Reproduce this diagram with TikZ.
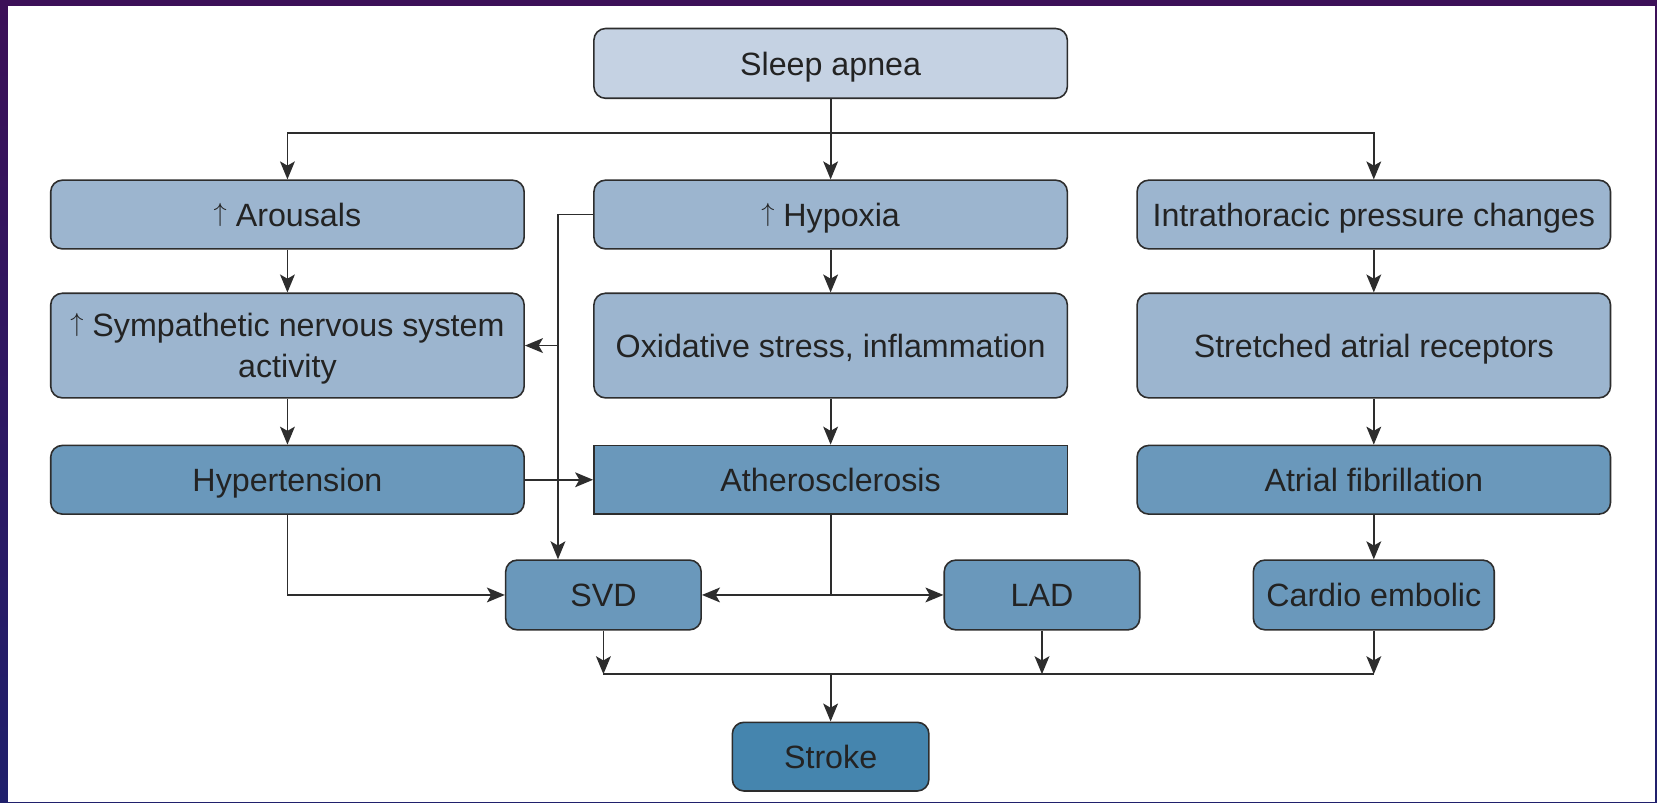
\documentclass[tikz,border=0pt]{standalone}
\usepackage{fontspec}
\setmainfont{Liberation Sans}
\usetikzlibrary{arrows.meta}
\definecolor{bgtop}{RGB}{60,16,88}
\definecolor{bgbot}{RGB}{32,32,108}
\definecolor{lightfill}{RGB}{197,210,227}
\definecolor{midfill}{RGB}{156,181,207}
\definecolor{darkfill}{RGB}{106,152,187}
\definecolor{strokefill}{RGB}{69,133,174}
\definecolor{edgecol}{RGB}{45,45,45}
\definecolor{txtcol}{RGB}{35,35,35}
\newcommand{\myup}{\raisebox{4.8pt}{$\uparrow$}}
\begin{document}
\begin{tikzpicture}[x=1pt,y=-1pt,
  box/.style={draw=edgecol, line width=1.5pt, rounded corners=11pt, text=txtcol,
    font=\fontsize{30.5}{36}\selectfont, align=center, inner sep=0pt,
    text height=22pt, text depth=0pt,
    minimum width=448pt, minimum height=65pt},
  lightbox/.style={box, fill=lightfill},
  midbox/.style={box, fill=midfill},
  darkbox/.style={box, fill=darkfill},
  conn/.style={draw=edgecol, line width=1.7pt},
  arr/.style={conn, -{Stealth[length=17pt,width=14pt,inset=4pt]}}
]
\useasboundingbox (0,0) rectangle (1568,759);
\shade[top color=bgtop, bottom color=bgbot] (0,0) rectangle (1568,759);
\fill[white] (7.5,5.5) rectangle (1566.5,759);

% nodes
\node[lightbox, minimum height=66pt] (apnea) at (786,60) {Sleep apnea};
\node[midbox] (arousal) at (272,203) {\myup\ Arousals};
\node[midbox] (hypoxia) at (786,203) {\myup\ Hypoxia};
\node[midbox] (intra) at (1300,203) {Intrathoracic pressure changes};
\node[midbox, minimum height=99pt, text height=, text depth=-6pt,
      font=\fontsize{30.5}{39}\selectfont] (symp) at (272,327) {\myup\ Sympathetic nervous system\\activity};
\node[midbox, minimum height=99pt] (oxid) at (786,327) {Oxidative stress, inflammation};
\node[midbox, minimum height=99pt] (stretch) at (1300,327) {Stretched atrial receptors};
\node[darkbox] (hyper) at (272,454) {Hypertension};
\node[darkbox, sharp corners] (ather) at (786,454) {Atherosclerosis};
\node[darkbox] (afib) at (1300,454) {Atrial fibrillation};
\node[darkbox, minimum width=185pt, minimum height=66pt] (svd) at (571,563) {SVD};
\node[darkbox, minimum width=185pt, minimum height=66pt] (lad) at (986,563) {LAD};
\node[darkbox, minimum width=228pt, minimum height=66pt] (cardio) at (1300,563) {Cardio embolic};
\node[box, fill=strokefill, minimum width=186pt] (stroke) at (786,716) {Stroke};

% junction coordinates
\coordinate (top) at (786,126);
\coordinate (vx) at (528,0);
\coordinate (bus) at (786,638);

% top fan-out
\draw[conn] (apnea.south) -- (top);
\draw[arr] (top) -| (arousal.north);
\draw[arr] (top) -- (hypoxia.north);
\draw[arr] (top) -| (intra.north);

% columns
\draw[arr] (arousal.south) -- (symp.north);
\draw[arr] (symp.south) -- (hyper.north);
\draw[arr] (hypoxia.south) -- (oxid.north);
\draw[arr] (oxid.south) -- (ather.north);
\draw[arr] (intra.south) -- (stretch.north);
\draw[arr] (stretch.south) -- (afib.north);
\draw[arr] (afib.south) -- (cardio.north);

% hypoxia side branch
\draw[arr] (hypoxia.west) -| (vx |- svd.north);
\draw[arr] (vx |- symp.east) -- (symp.east);

% hypertension
\draw[arr] (hyper.east) -- (ather.west);
\draw[arr] (hyper.south) |- (svd.west);

% atherosclerosis
\draw[conn] (ather.south) -- (ather.south |- svd.east);
\draw[arr] (ather.south |- svd.east) -- (svd.east);
\draw[arr] (ather.south |- lad.west) -- (lad.west);

% bottom bus
\draw[conn] (svd.south |- bus) -- (bus -| cardio.south);
\draw[arr] (svd.south) -- (svd.south |- bus);
\draw[arr] (lad.south) -- (lad.south |- bus);
\draw[arr] (cardio.south) -- (cardio.south |- bus);
\draw[arr] (bus) -- (stroke.north);
\end{tikzpicture}
\end{document}
